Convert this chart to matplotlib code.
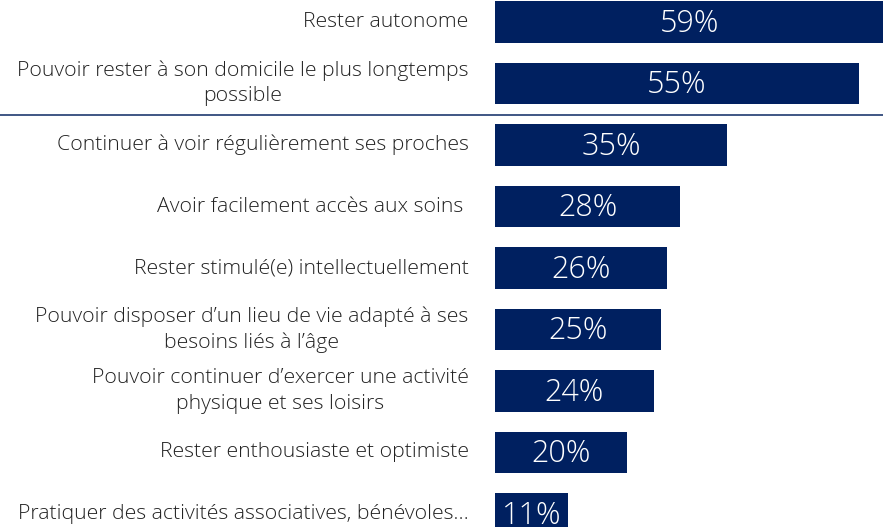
import matplotlib.pyplot as plt
from matplotlib.lines import Line2D

# données
categories = [
    "Rester autonome",
    "Pouvoir rester à son domicile le plus longtemps\npossible",
    "Continuer à voir régulièrement ses proches",
    "Avoir facilement accès aux soins ",
    "Rester stimulé(e) intellectuellement",
    "Pouvoir disposer d’un lieu de vie adapté à ses\nbesoins liés à l’âge",
    "Pouvoir continuer d’exercer une activité\nphysique et ses loisirs",
    "Rester enthousiaste et optimiste",
    "Pratiquer des activités associatives, bénévoles…",
]
values = [59, 55, 35, 28, 26, 25, 24, 20, 11]

bar_color = '#002060'
plt.rcParams['font.family'] = ['Open Sans', 'DejaVu Sans']

fig = plt.figure(figsize=(8.83, 5.27), dpi=100)
ax = fig.add_axes([495 / 883, 0, 1 - 495 / 883, 1])

pos = list(range(len(values)))
ax.barh(pos, values, height=0.68, color=bar_color)
ax.set_xlim(0, 388 / 6.62)
ax.set_ylim((527 - 22) / 61.5, -22 / 61.5)
ax.axis('off')

for p, v, lab in zip(pos, values, categories):
    ax.text(min(v, ax.get_xlim()[1]) / 2, p + 0.03, f"{v}%", color='white',
            ha='center', va='center', fontsize=22, fontweight='light')
    ax.annotate(lab, xy=(0, p), xytext=(-19, 0), textcoords='offset points',
                ha='right', va='center', multialignment='center',
                fontsize=15.3, fontweight='light', color='#222222',
                linespacing=1.35, annotation_clip=False)

# ligne de séparation
y_sep = 1 - 115 / 527
fig.add_artist(Line2D([0, 1], [y_sep, y_sep], color='#1F3A70', linewidth=1.2))

plt.savefig('out.png', dpi=100)
